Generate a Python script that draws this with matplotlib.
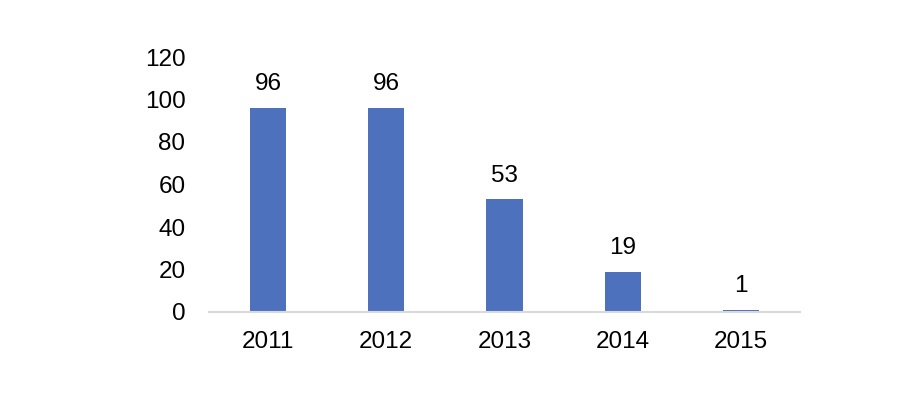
import matplotlib
matplotlib.use("Agg")
import matplotlib.pyplot as plt

years = ["2011", "2012", "2013", "2014", "2015"]
counts = [96, 96, 53, 19, 1]

plt.rcParams["font.family"] = ["Liberation Sans", "DejaVu Sans"]

fig = plt.figure(figsize=(9.14, 4.18), dpi=100)
ax = fig.add_axes([209 / 914, 1 - 312 / 418, (800 - 209) / 914, (312 - 57) / 418])

x = list(range(len(years)))
ax.bar(x, counts, width=0.305, color="#4E71BE", zorder=2)

for xi, v in zip(x, counts):
    ax.annotate(str(v), (xi, v), xytext=(0, 9), textcoords="offset points",
                ha="center", va="bottom", fontsize=17.5, color="black")

ax.set_xlim(-0.5, len(years) - 0.5)
ax.set_ylim(0, 120)
ax.set_yticks(range(0, 121, 20))
ax.set_xticks(x)
ax.set_xticklabels(years)
ax.tick_params(axis="both", length=0, labelsize=17.5, colors="black")
ax.tick_params(axis="y", pad=17)
ax.tick_params(axis="x", pad=14)

for side in ["top", "right", "left"]:
    ax.spines[side].set_visible(False)
ax.spines["bottom"].set_color("#D9D9D9")
ax.spines["bottom"].set_linewidth(1.5)

plt.savefig("out.png", dpi=100)
